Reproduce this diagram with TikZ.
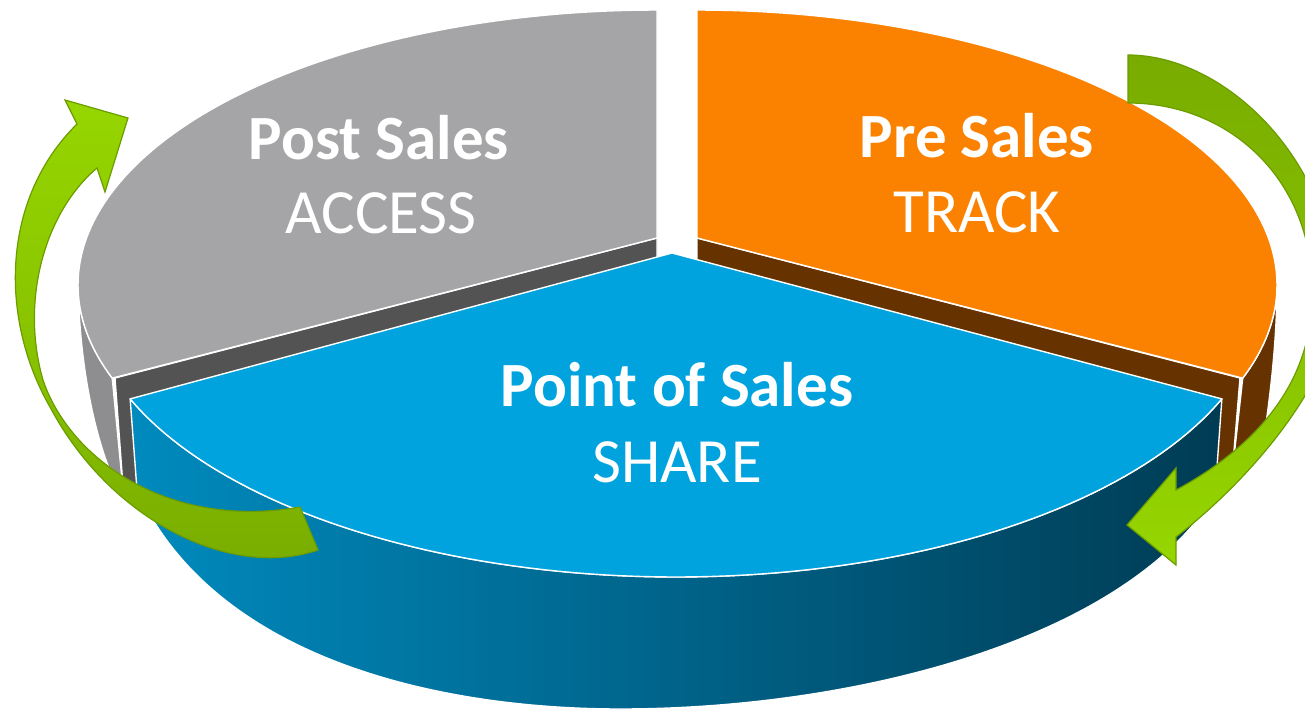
\documentclass[tikz,border=0pt]{standalone}
\usepackage{fontspec}
\setmainfont{Carlito}
\definecolor{gtop}{RGB}{165,165,167}
\definecolor{gside}{RGB}{142,142,144}
\definecolor{gcut}{RGB}{83,83,83}
\definecolor{otop}{RGB}{250,130,0}
\definecolor{oside}{RGB}{102,51,0}
\definecolor{btop}{RGB}{0,163,221}
\definecolor{bsideL}{RGB}{0,138,190}
\definecolor{bsideR}{RGB}{0,60,84}
\definecolor{gbright}{RGB}{150,214,0}
\definecolor{gdark}{RGB}{120,172,0}
\definecolor{gline}{RGB}{108,156,0}
\tikzset{
  face/.style={draw=white, line width=1.4pt, line join=round},
  greenarrow/.style={draw=gline, line width=1.2pt, line join=miter},
  lbl/.style={text=white, anchor=base, inner sep=0pt, font=\fontsize{63}{70}\selectfont},
  lblb/.style={lbl, font=\fontsize{63}{70}\selectfont\bfseries}
}
\begin{document}
\begin{tikzpicture}[x=1pt,y=-1pt]
\useasboundingbox (0,0) rectangle (1305,709);
% ---- Post Sales (grey) slice ----
\path[face, fill=gside] plot[domain=185:160.2, samples=30, variable=\t] ({657+579*cos(\t)},{285+275*sin(\t)})
   -- (124,500) .. controls (100,460) and (80,380) .. (78,285) -- cycle;
\path[face, fill=gcut] (115,378) -- (657,238) -- (657,275) -- (124,500) -- cycle;
\path[face, fill=gtop] plot[domain=-90:-199.8, samples=90, variable=\t] ({657+579*cos(\t)},{285+275*sin(\t)})
   -- (657,238) -- cycle;
% ---- Pre Sales (orange) slice ----
\path[face, fill=oside] plot[domain=-5:19.8, samples=30, variable=\t] ({697+580*cos(\t)},{285+275*sin(\t)})
   -- (1232,475) -- (1262,450) .. controls (1270,400) and (1277,340) .. (1277,285) -- cycle;
\path[face, fill=oside] (697,238) -- (1240,378) -- (1232,475) -- (697,275) -- cycle;
\path[face, fill=otop] plot[domain=-90:19.8, samples=90, variable=\t] ({697+580*cos(\t)},{285+275*sin(\t)})
   -- (697,238) -- cycle;
% ---- Point of Sales (blue) slice ----
\path[face, left color=bsideL, right color=bsideR]
   plot[domain=157.7:22.3, samples=90, variable=\t] ({676+590*cos(\t)},{290+287*sin(\t)})
   -- (1215,495) .. controls (1125,640) and (855,709) .. (620,709)
   .. controls (440,709) and (215,660) .. (137,490) -- cycle;
\path[face, fill=btop] (672,253) -- plot[domain=157.7:22.3, samples=90, variable=\t] ({676+590*cos(\t)},{290+287*sin(\t)}) -- cycle;
% ---- green arrows ----
\path[greenarrow, top color=gbright, bottom color=gdark, middle color=gbright!55!gdark]
   (318,550) .. controls (230,580) and (110,520) .. (50,407)
   .. controls (0,320) and (0,200) .. (77,124)
   -- (65,100) -- (128,118) -- (105,192) -- (97,168)
   .. controls (45,212) and (20,300) .. (43,380)
   .. controls (70,460) and (170,530) .. (300,507) -- cycle;
\path[greenarrow, top color=gdark, bottom color=gbright, middle color=gdark!50!gbright]
   (1128,55) .. controls (1225,55) and (1335,160) .. (1338,300)
   .. controls (1336,380) and (1250,480) .. (1176,537)
   -- (1176,565) -- (1127,525) -- (1176,468) -- (1176,490)
   .. controls (1268,440) and (1314,372) .. (1312,290)
   .. controls (1312,180) and (1230,103) .. (1128,103) -- cycle;
% ---- labels ----
\node[lblb] (post) at (379,159) {Post Sales};
\node[lbl] (access) at (381,233) {ACCESS};
\node[lblb] (pre) at (977,157) {Pre Sales};
\node[lbl] (track) at (977,232) {TRACK};
\node[lblb] (pos) at (677,406) {Point of Sales};
\node[lbl] (share) at (677,482) {SHARE};
\end{tikzpicture}
\end{document}
